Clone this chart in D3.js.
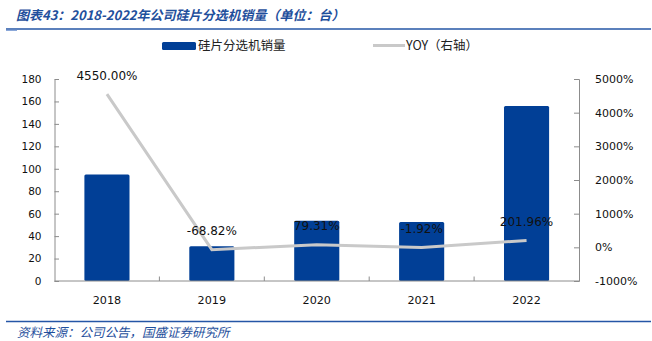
<!DOCTYPE html>
<html><head><meta charset="utf-8">
<script src="https://cdn.jsdelivr.net/npm/d3@7"></script>
<style>
html,body{margin:0;padding:0;background:#fff;}
svg{display:block;}
</style>
</head><body>
<svg id="c" width="652" height="341"></svg>
<script>
const categories = ["2018","2019","2020","2021","2022"];
const sales = [95, 31, 53.7, 52.5, 156];
const yoy = [4550.00, -68.82, 79.31, -1.92, 201.96];
const yoyLabels = ["4550.00%","-68.82%","79.31%","-1.92%","201.96%"];
const leftTicks = [0,20,40,60,80,100,120,140,160,180];
const rightTicks = [-1000,0,1000,2000,3000,4000,5000];
const titleText = "图表43：2018-2022年公司硅片分选机销量（单位：台）";
const sourceText = "资料来源：公司公告，国盛证券研究所";
const legendNames = ["硅片分选机销量","YOY（右轴）"];

const svg = d3.select("#c");
const L = 54.5, R = 579, T = 79, B = 281;
const barColor = "#013f96", lineColor = "#c9c9c9", axisColor = "#8c8c8c";
const latin = "'DejaVu Sans', sans-serif";
const cjk = "'Noto Sans CJK SC', sans-serif";

// title
svg.append("text").attr("x",16).attr("y",20)
  .attr("font-family",cjk).attr("font-size",13).attr("font-style","italic").attr("font-weight","bold")
  .attr("fill","#1f4f9c").text(titleText);
svg.append("line").attr("x1",6).attr("x2",651).attr("y1",29).attr("y2",29)
  .attr("stroke","#2556a6").attr("stroke-width",1.5);
svg.append("line").attr("x1",6).attr("x2",17).attr("y1",30.3).attr("y2",30.3)
  .attr("stroke","#6f93d0").attr("stroke-width",1);

// legend
svg.append("rect").attr("x",162).attr("y",42).attr("width",34).attr("height",8).attr("rx",1.5).attr("fill",barColor);
svg.append("text").attr("x",198).attr("y",50).attr("font-family",cjk).attr("font-size",12.5).attr("fill","#222").text(legendNames[0]);
svg.append("line").attr("x1",373).attr("x2",405).attr("y1",45.5).attr("y2",45.5).attr("stroke",lineColor).attr("stroke-width",3);
svg.append("text").attr("x",406).attr("y",50).attr("font-family",cjk).attr("font-size",12.5).attr("fill","#222").text(legendNames[1]);

// scales
const x = d3.scaleBand().domain(categories).range([L,R]).paddingInner(0.57).paddingOuter(0.285);
const xc = d => x(d) + x.bandwidth()/2;
const yL = d3.scaleLinear().domain([0,180]).range([B,T]);
const yR = d3.scaleLinear().domain([-1000,5000]).range([B,T]);

// bars
svg.append("g").selectAll("rect").data(categories).join("rect")
  .attr("x",d=>x(d)).attr("width",x.bandwidth())
  .attr("y",(d,i)=>yL(sales[i])).attr("height",(d,i)=>B-yL(sales[i]))
  .attr("rx",1.5).attr("fill",barColor);

// axes
const gl = svg.append("g").attr("transform",`translate(${L},0)`)
  .call(d3.axisLeft(yL).tickValues(leftTicks).tickSize(-4.5).tickPadding(13));
const gr = svg.append("g").attr("transform",`translate(${R},0)`)
  .call(d3.axisRight(yR).tickValues(rightTicks).tickSize(-5).tickPadding(16).tickFormat(d=>d+"%"));
const gb = svg.append("g").attr("transform",`translate(0,${B})`)
  .call(d3.axisBottom(x).tickSize(0).tickPadding(15));
[gl,gr,gb].forEach(g=>{
  g.select(".domain").attr("stroke",axisColor);
  g.selectAll(".tick line").attr("stroke",axisColor);
  g.selectAll("text").attr("font-family",latin).attr("fill","#111");
});
gl.selectAll("text").attr("font-size",10.5);
gr.selectAll("text").attr("font-size",11);
gb.selectAll("text").attr("font-size",11.2);
gb.select(".domain").attr("d",`M${L},0H${R}`);
// category separator ticks (inside, upward)
const seps = categories.slice(1).map(d=>x(d) - x.step()*x.paddingInner()/2);
svg.append("g").selectAll("line").data(seps).join("line")
  .attr("x1",d=>d).attr("x2",d=>d).attr("y1",B).attr("y2",B-4.5).attr("stroke",axisColor);

// YoY line
svg.append("path").datum(categories)
  .attr("d",d3.line().x(d=>xc(d)).y((d,i)=>yR(yoy[i])))
  .attr("fill","none").attr("stroke",lineColor).attr("stroke-width",3);

// labels
svg.append("g").selectAll("text").data(categories).join("text")
  .attr("x",d=>xc(d)).attr("y",(d,i)=>yR(yoy[i]) - 14.5)
  .attr("text-anchor","middle").attr("font-family",latin).attr("font-size",12)
  .attr("fill","#111").text((d,i)=>yoyLabels[i]);

// source
svg.append("line").attr("x1",6).attr("x2",651).attr("y1",321.5).attr("y2",321.5)
  .attr("stroke","#2556a6").attr("stroke-width",1.5);
svg.append("text").attr("x",17).attr("y",337)
  .attr("font-family",cjk).attr("font-size",12.5).attr("font-style","italic")
  .attr("fill","#1f4f9c").text(sourceText);
</script>
</body></html>
